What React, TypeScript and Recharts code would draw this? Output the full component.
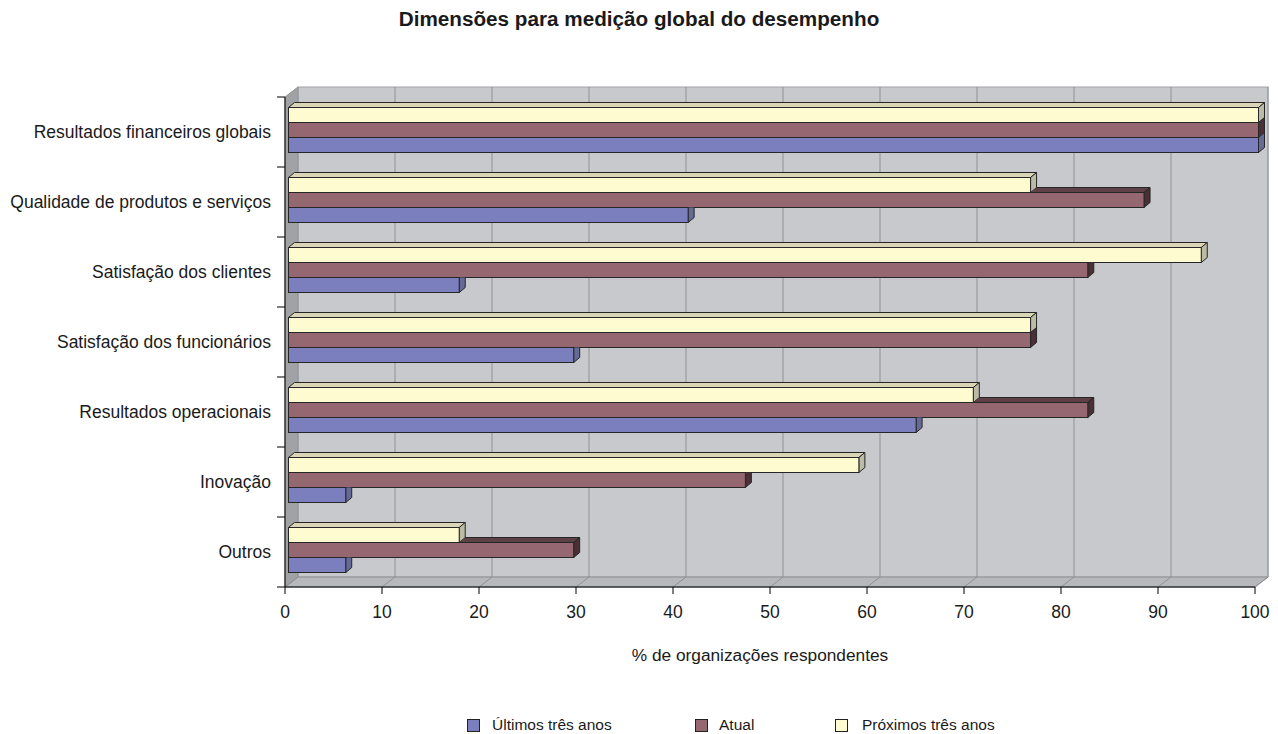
import React from 'react';
import { BarChart, Bar, XAxis, YAxis, ReferenceArea } from 'recharts';

const categories = [
  'Resultados financeiros globais',
  'Qualidade de produtos e serviços',
  'Satisfação dos clientes',
  'Satisfação dos funcionários',
  'Resultados operacionais',
  'Inovação',
  'Outros',
];
const ultimosTresAnos = [100, 41.2, 17.6, 29.4, 64.7, 5.9, 5.9];
const atual = [100, 88.2, 82.4, 76.5, 82.4, 47.1, 29.4];
const proximosTresAnos = [100, 76.5, 94.1, 76.5, 70.6, 58.8, 17.6];
const xTicks = [0, 10, 20, 30, 40, 50, 60, 70, 80, 90, 100];

const seriesNames = ['Últimos três anos', 'Atual', 'Próximos três anos'];
const seriesKeys = ['ultimos', 'atual', 'proximos'];
const frontColors = ['#7B7FBE', '#956770', '#FFFBD0'];
const topColors = ['#5F6394', '#5E4047', '#D9D5B6'];
const sideColors = ['#666A96', '#4A3036', '#BCBBA5'];

const title = 'Dimensões para medição global do desempenho';
const xLabel = '% de organizações respondentes';

const data = categories.map((name, i) => ({
  name,
  ultimos: ultimosTresAnos[i],
  atual: atual[i],
  proximos: proximosTresAnos[i],
}));

const FONT = '"Liberation Sans", Arial, Helvetica, sans-serif';
const OX = 3.5;
const OY = -2.5;
const DX = 6;
const DY = 5;
const WX = 13;
const WY = 10;
const EDGE = '#262626';

function makeShape(seriesIdx: number, upperKey: string | null) {
  return (props: any) => {
    const { x, y, width, height, payload, index } = props;
    const v = payload[seriesKeys[seriesIdx]];
    const X = x + OX;
    const T = y + OY;
    const W = width;
    const H = height;
    const top = `${X},${T} ${X + W},${T} ${X + W + DX},${T - DY} ${X + DX},${T - DY}`;
    const side = `${X + W},${T} ${X + W + DX},${T - DY} ${X + W + DX},${T + H - DY} ${X + W},${T + H}`;
    let clipId: string | undefined;
    let clip: any = null;
    if (upperKey) {
      const u = payload[upperKey];
      const uEnd = X + (v > 0 ? (W * u) / v : 0);
      clipId = `clip-${seriesKeys[seriesIdx]}-${index}`;
      clip = (
        <clipPath id={clipId}>
          <polygon
            points={`${X - 50},${T} ${uEnd},${T} ${uEnd + DX},${T - DY} ${uEnd + DX},${T - 100} 2000,${T - 100} 2000,${T + 200} ${X - 50},${T + 200}`}
          />
        </clipPath>
      );
    }
    return (
      <g>
        {clip && <defs>{clip}</defs>}
        <g clipPath={clipId ? `url(#${clipId})` : undefined}>
          <polygon points={top} fill={topColors[seriesIdx]} stroke={EDGE} strokeWidth={1} strokeLinejoin="round" />
          <polygon points={side} fill={sideColors[seriesIdx]} stroke={EDGE} strokeWidth={1} strokeLinejoin="round" />
        </g>
        <rect x={X} y={T} width={W} height={H} fill={frontColors[seriesIdx]} stroke={EDGE} strokeWidth={1} />
      </g>
    );
  };
}

const WallShape = (props: any) => {
  const { x, y, width: w, height: h } = props;
  const n = categories.length;
  const leftWall = `${x},${y + h} ${x},${y} ${x + WX},${y - WY} ${x + WX},${y + h - WY}`;
  const floor = `${x},${y + h} ${x + w},${y + h} ${x + w + WX},${y + h - WY} ${x + WX},${y + h - WY}`;
  return (
    <g>
      <rect x={x + WX} y={y - WY} width={w} height={h} fill="#C7C9CC" stroke="#A2A4A7" strokeWidth={1} />
      <polygon points={leftWall} fill="#A0A2A5" stroke="#8E9093" strokeWidth={1} />
      <polygon points={floor} fill="#B6B8BB" stroke="#8E9093" strokeWidth={1} />
      {xTicks.map((t) => {
        const gx = x + (w * t) / 100;
        return (
          <g key={t}>
            {t > 0 && <line x1={gx + WX} y1={y - WY} x2={gx + WX} y2={y + h - WY} stroke="#8F9194" strokeWidth={1} />}
            <line x1={gx} y1={y + h} x2={gx + WX} y2={y + h - WY} stroke="#8F9194" strokeWidth={1} />
          </g>
        );
      })}
      {Array.from({ length: n + 1 }).map((_, i) => (
        <line key={`yt${i}`} x1={x - 8} y1={y + (h * i) / n} x2={x} y2={y + (h * i) / n} stroke="#000" strokeWidth={1} />
      ))}
    </g>
  );
};

const legendSquareLeft = [467, 695, 835];
const legendTextLeft = [492, 719, 862];

export default function App() {
  return (
    <div style={{ position: 'absolute', left: 0, top: 0, width: 1278, height: 734, background: '#fff', fontFamily: FONT }}>
      <div
        style={{
          position: 'absolute',
          left: 0,
          top: 8,
          width: 1278,
          textAlign: 'center',
          fontWeight: 'bold',
          fontSize: 20.7,
          lineHeight: '22px',
          color: '#1a1a1a',
        }}
      >
        {title}
      </div>
      <BarChart
        width={1278}
        height={734}
        layout="vertical"
        data={data}
        margin={{ top: 97, right: 23, left: 15, bottom: 107 }}
        barSize={15}
        barGap={0}
      >
        <ReferenceArea x1={0} x2={100} ifOverflow="visible" shape={WallShape} />
        <XAxis
          type="number"
          domain={[0, 100]}
          ticks={xTicks}
          interval={0}
          tickSize={7}
          tickMargin={12}
          height={40}
          axisLine={{ stroke: '#000' }}
          tickLine={{ stroke: '#000' }}
          tick={{ fontSize: 17.5, fill: '#1a1a1a', fontFamily: FONT }}
          label={{ value: xLabel, position: 'bottom', offset: 22, dx: -10, fontSize: 17.3, fill: '#1a1a1a', fontFamily: FONT }}
        />
        <YAxis
          type="category"
          dataKey="name"
          width={270}
          interval={0}
          tickLine={false}
          tickSize={8}
          tickMargin={6}
          axisLine={{ stroke: '#000' }}
          tick={{ fontSize: 17.5, fill: '#1a1a1a', fontFamily: FONT }}
        />
        <Bar dataKey="proximos" name={seriesNames[2]} barSize={15} isAnimationActive={false} shape={makeShape(2, null)} />
        <Bar dataKey="atual" name={seriesNames[1]} barSize={15} isAnimationActive={false} shape={makeShape(1, 'proximos')} />
        <Bar dataKey="ultimos" name={seriesNames[0]} barSize={15} isAnimationActive={false} shape={makeShape(0, 'atual')} />
      </BarChart>
      {seriesNames.map((name, i) => (
        <React.Fragment key={name}>
          <div
            style={{
              position: 'absolute',
              left: legendSquareLeft[i],
              top: 719,
              width: 11,
              height: 11,
              background: frontColors[i],
              border: '1px solid #222',
            }}
          />
          <div
            style={{
              position: 'absolute',
              left: legendTextLeft[i],
              top: 715,
              fontSize: 15.5,
              lineHeight: '20px',
              color: '#1a1a1a',
              whiteSpace: 'nowrap',
            }}
          >
            {name}
          </div>
        </React.Fragment>
      ))}
    </div>
  );
}
